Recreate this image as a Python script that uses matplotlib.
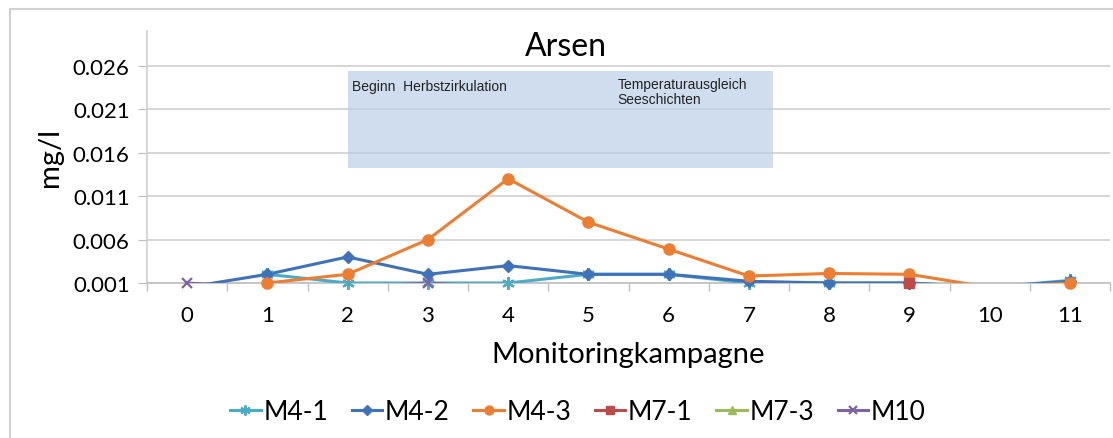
import numpy as np
import matplotlib.pyplot as plt
from matplotlib.patches import Rectangle
from matplotlib.lines import Line2D

# Monitoringkampagnen 0..11, Werte in mg/l (None = kein Wert)
kampagnen = list(range(12))
m4_1 = [None, 0.002, 0.001, 0.001, 0.001, 0.002, 0.002, 0.001, 0.001, 0.001, 0.0005, 0.0013]
m4_2 = [0.0005, 0.002, 0.004, 0.002, 0.003, 0.002, 0.002, 0.0012, 0.001, 0.001, 0.0005, 0.0012]
m4_3 = [None, 0.001, 0.002, 0.006, 0.013, 0.008, 0.0049, 0.0018, 0.0021, 0.002, 0.0005, 0.001]
m7_1 = [None, None, None, None, None, None, None, None, None, 0.001, None, None]
m7_3 = [None] * 12
m10 = [0.001, 0.0005, 0.0005, 0.001, 0.0005, None, None, None, None, None, None, None]

series_names = ['M4-1', 'M4-2', 'M4-3', 'M7-1', 'M7-3', 'M10']
series_vals = [m4_1, m4_2, m4_3, m7_1, m7_3, m10]
colors = ['#4bacc6', '#3f72b9', '#ed7d31', '#be4b48', '#9bbb59', '#8064a2']
markers = [(6, 2, 0), 'D', 'o', 's', '^', 'x']
msizes = [9, 6, 8, 7.5, 7.5, 7.5]

yticks = [0.001, 0.006, 0.011, 0.016, 0.021, 0.026]
ymin = 0.001

plt.rcParams['font.family'] = ['Lato', 'DejaVu Sans']

fig = plt.figure(figsize=(11.13, 4.39), dpi=100)
ax = fig.add_axes([147/1113, 1-284/439, (1110-147)/1113, (284-32)/439])

handles = []
for name, vals, c, m, ms in zip(series_names, series_vals, colors, markers, msizes):
    y = np.array([np.nan if v is None else v for v in vals], dtype=float)
    ax.plot(kampagnen, y, color=c, lw=2.2, zorder=3)
    # Marker nur fuer Werte im sichtbaren Bereich
    ym = np.where(y >= ymin, y, np.nan)
    mew = 1.6 if m in ('x', (6, 2, 0)) else 1
    ax.plot(kampagnen, ym, ls='none', color=c, marker=m, ms=ms, mew=mew, zorder=4, clip_on=False)
    handles.append(Line2D([], [], color=c, lw=2.2, marker=m, ms=ms * 0.8, mew=mew, label=name))

ax.set_xlim(-0.5, 11.5)
ax.set_ylim(ymin, 0.030)
ax.set_yticks(yticks)
ax.set_yticklabels([f'{v:.3f}' for v in yticks])
ax.set_xticks(kampagnen)
ax.set_xticks(np.arange(-0.5, 12, 1), minor=True)
ax.tick_params(axis='x', which='major', length=0, pad=16, labelsize=16)
ax.tick_params(axis='x', which='minor', length=6, color='#bfbfbf', width=1)
ax.tick_params(axis='y', length=6.5, pad=6, color='#bfbfbf', labelsize=16)
ax.grid(axis='y', color='#d0d0d0', lw=1.2, zorder=0)
ax.set_axisbelow(True)
for s in ['top', 'right']:
    ax.spines[s].set_visible(False)
ax.spines['left'].set_color('#d0d0d0')
ax.spines['bottom'].set_color('#bfbfbf')
ax.spines['left'].set_linewidth(1.2)
ax.spines['bottom'].set_linewidth(1.2)

# Zeitraum-Kasten
ax.add_patch(Rectangle((2.0, 0.01425), 5.3, 0.01115, facecolor=(0.72, 0.8, 0.9), alpha=0.65,
                       edgecolor='none', zorder=2))
ax.text(2.05, 0.0237, 'Beginn  Herbstzirkulation', fontsize=10, family='Liberation Sans',
        color='#222222', va='center', ha='left', zorder=4)
ax.text(5.36, 0.0247, 'Temperaturausgleich\nSeeschichten', fontsize=10, family='Liberation Sans',
        color='#222222', va='top', ha='left', linespacing=1.05, zorder=4)

fig.text(566/1113, 1-47/439, 'Arsen', fontsize=23, ha='center', va='center')
fig.text(50/1113, 1-158/439, 'mg/l', fontsize=21, rotation=90, ha='center', va='center')
fig.text(628/1113, 1-355/439, 'Monitoringkampagne', fontsize=21, ha='center', va='center')

fig.legend(handles=handles, loc='center', bbox_to_anchor=(578/1113, 1-413/439), ncol=6,
           frameon=False, fontsize=19, handlelength=1.15, handletextpad=0.1, columnspacing=0.9,
           borderaxespad=0)

# aeusserer Rahmen
fig.add_artist(Line2D([10/1113, 10/1113, 1.0], [0.0, 1-10/439, 1-10/439],
                      transform=fig.transFigure, color='#d0d0d0', lw=1.5))

fig.savefig('out.png', dpi=100)
